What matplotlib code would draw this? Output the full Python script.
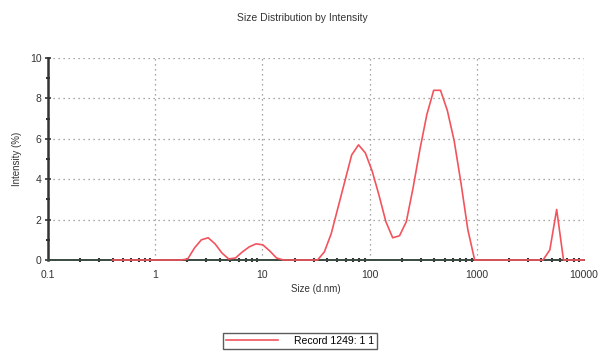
import numpy as np
import matplotlib
matplotlib.use('Agg')
import matplotlib.pyplot as plt
from matplotlib.ticker import LogLocator, NullFormatter, FixedLocator

plt.rcParams['font.family'] = ['Liberation Sans', 'DejaVu Sans']

# 70 size classes (d.nm), 0.4 .. 10000, log spaced as in the instrument export
size_start = 0.4
size_end = 10000.0
n_bins = 70
sizes = np.logspace(np.log10(size_start), np.log10(size_end), n_bins)

# intensity (%), one value per size class
intensity = [
    0, 0, 0, 0, 0, 0, 0, 0, 0, 0,              # 0.4 - 1.5
    0, 0.05, 0.6, 1.0, 1.1, 0.8, 0.35, 0.05,   # peak ~3 nm
    0.1, 0.4, 0.65, 0.8, 0.75, 0.45, 0.1,      # peak ~10 nm
    0, 0, 0, 0, 0, 0,
    0.4, 1.3, 2.6, 3.9, 5.2, 5.7, 5.3, 4.4, 3.2, 1.9, 1.1,  # peak ~80 nm
    1.2, 1.9, 3.6, 5.5, 7.2, 8.4, 8.4, 7.4, 5.9, 3.8, 1.5,  # peak ~450 nm
    0, 0, 0, 0, 0, 0, 0, 0, 0, 0,
    0, 0.5, 2.5, 0,                            # spike ~5500 nm
    0, 0, 0,
]

title = 'Size Distribution by Intensity'
xlabel = 'Size (d.nm)'
ylabel = 'Intensity (%)'
record = 'Record 1249: 1 1'
xticks = [0.1, 1, 10, 100, 1000, 10000]
xticklabels = ['0.1', '1', '10', '100', '1000', '10000']
yticks = [0, 2, 4, 6, 8, 10]

fig = plt.figure(figsize=(6.05, 3.53), dpi=100)
ax = fig.add_axes([48 / 605, 93 / 353, 536 / 605, 202 / 353])

line, = ax.plot(sizes, intensity, color='#f2545e', lw=1.2, label=record,
                zorder=3, clip_on=False)

ax.set_xscale('log')
ax.set_xlim(0.1, 10000)
ax.set_ylim(0, 10)

ax.set_xticks(xticks)
ax.set_xticklabels(xticklabels)
ax.xaxis.set_minor_locator(LogLocator(base=10, subs=np.arange(2, 10)))
ax.xaxis.set_minor_formatter(NullFormatter())
ax.set_yticks(yticks)
ax.yaxis.set_minor_locator(FixedLocator([1, 3, 5, 7, 9]))

ax.grid(True, which='major', linestyle=(0, (1, 3)), color='#8a8a8a', lw=0.9)
for s in ['top', 'right']:
    ax.spines[s].set_visible(False)
ax.spines['left'].set_linewidth(1.8)
ax.spines['left'].set_color('#333333')
ax.spines['bottom'].set_linewidth(1.4)
ax.spines['bottom'].set_color('#3a4a40')

ax.tick_params(axis='both', which='major', labelsize=7.5, colors='#333333',
               direction='inout', length=5, width=1.2, pad=2)
ax.tick_params(axis='both', which='minor', direction='inout', length=3,
               width=1.5, colors='#333333')
ax.tick_params(axis='x', which='major', length=0, pad=7)

ax.set_xlabel(xlabel, fontsize=7, color='#333333', labelpad=3)
ax.set_ylabel(ylabel, fontsize=7, color='#333333', labelpad=6)
fig.text(0.5, 1 - 18 / 353, title, ha='center', va='center', fontsize=7.5,
         color='#333333')

leg = fig.legend(handles=[line], loc='center', bbox_to_anchor=(300 / 605, 1 - 341 / 353),
                 fontsize=7.5, frameon=True, fancybox=False, handlelength=5,
                 borderpad=0.3, handletextpad=1.5)
leg.get_frame().set_edgecolor('#333333')
leg.get_frame().set_linewidth(1.0)

fig.savefig('out.png', dpi=100)
